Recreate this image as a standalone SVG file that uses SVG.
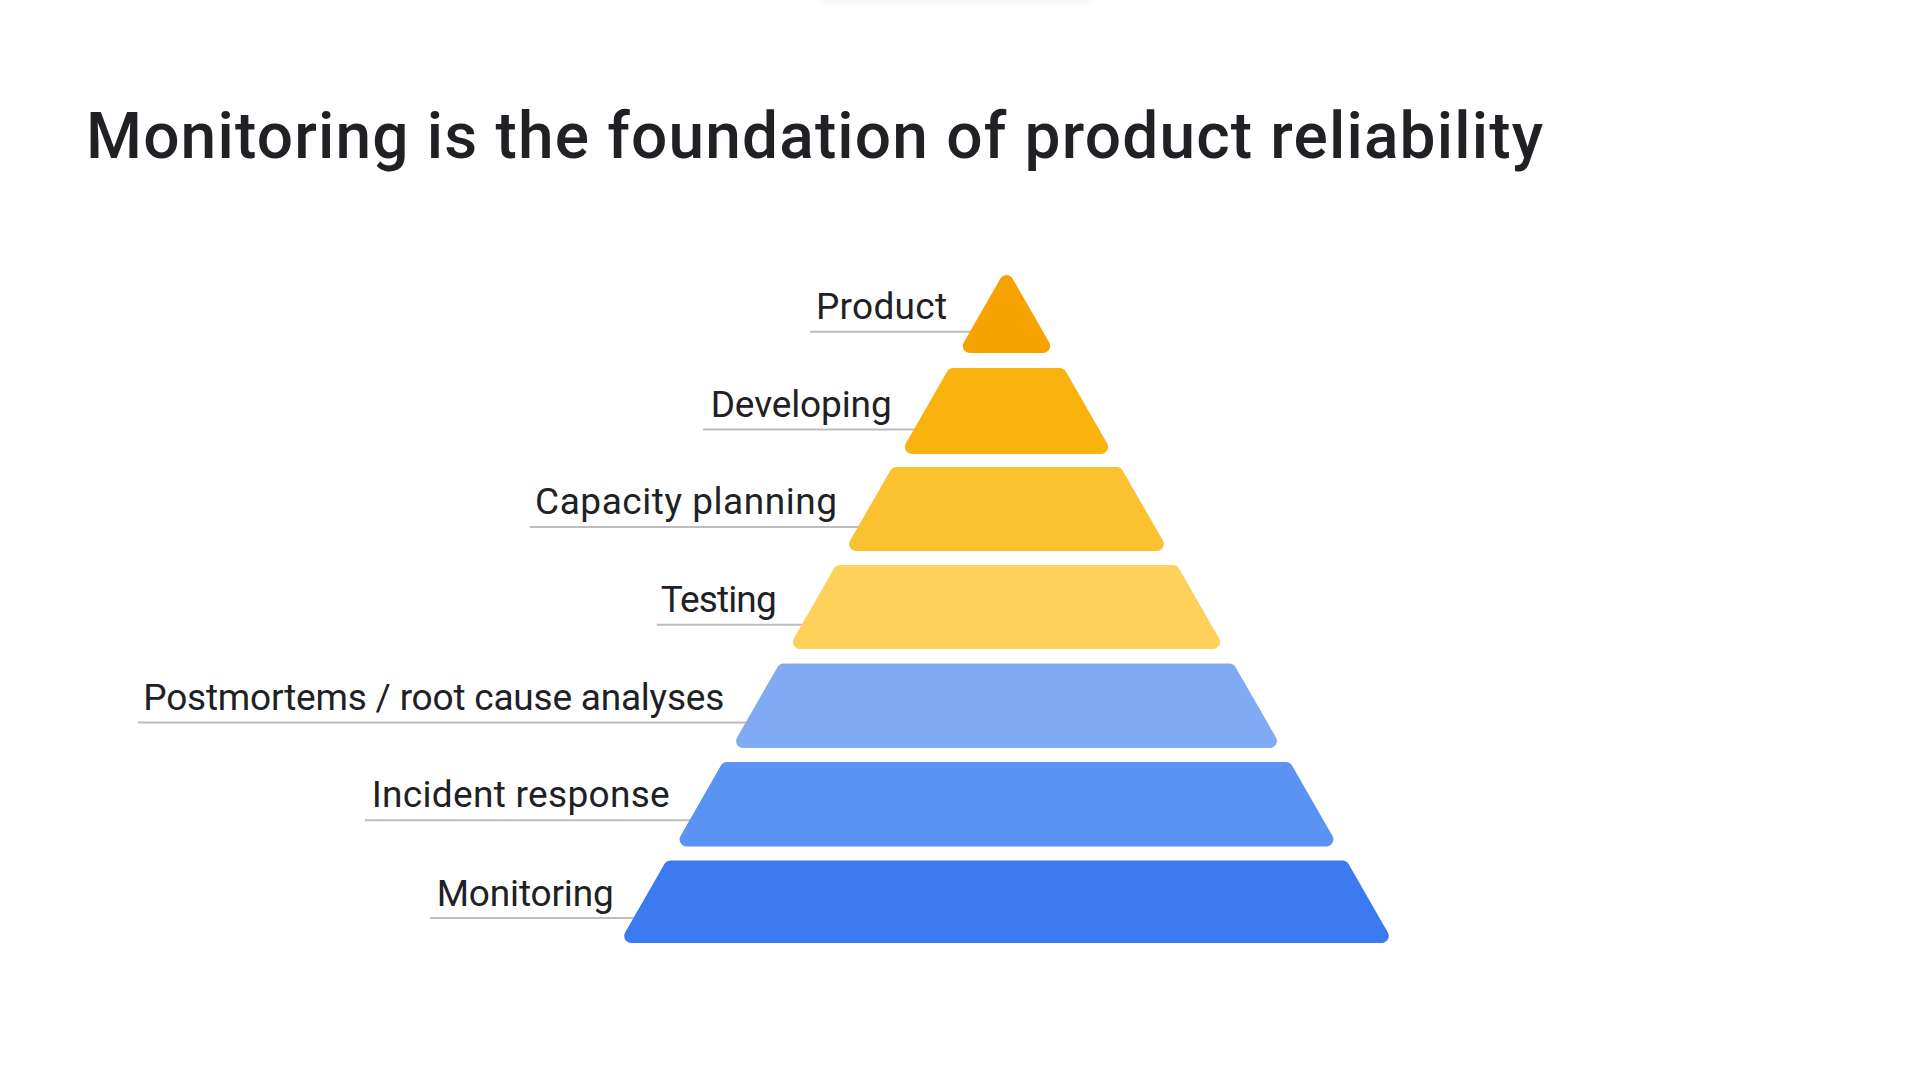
<svg xmlns="http://www.w3.org/2000/svg" width="1916" height="1077" viewBox="0 0 1916 1077">
  <style>
    .title { font-family: Roboto, "Liberation Sans", sans-serif; font-size: 64px; font-weight: 500; fill: #202124; }
    .lbl { font-family: Roboto, "Liberation Sans", sans-serif; font-size: 37px; fill: #202124; }
    .lead { stroke: #BDBDBD; stroke-width: 2; fill: none; }
    .tier { stroke-width: 14; stroke-linejoin: round; }
  </style>
  <defs>
    <filter id="blur" x="-20%" y="-200%" width="140%" height="500%">
      <feGaussianBlur stdDeviation="4"/>
    </filter>
  </defs>
  <rect x="0" y="0" width="1916" height="1077" fill="#FFFFFF"/>
  <rect x="820" y="-14" width="272" height="16" fill="#000" opacity="0.06" filter="url(#blur)"/>

  <text class="title" x="86" y="158" textLength="1457">Monitoring is the foundation of product reliability</text>

  <g id="connectors">
    <line class="lead" x1="810" y1="331.7" x2="980" y2="331.7"/>
    <line class="lead" x1="703" y1="429.4" x2="924" y2="429.4"/>
    <line class="lead" x1="530" y1="527.1" x2="868" y2="527.1"/>
    <line class="lead" x1="656.7" y1="624.8" x2="812" y2="624.8"/>
    <line class="lead" x1="138" y1="722.5" x2="756" y2="722.5"/>
    <line class="lead" x1="365" y1="820.2" x2="700" y2="820.2"/>
    <line class="lead" x1="430" y1="917.9" x2="644" y2="917.9"/>
  </g>

  <g id="product">
    <polygon class="tier" fill="#F6A300" stroke="#F6A300" points="1006.5,282.1 1043.2,346 969.8,346"/>
    <text class="lbl" x="816" y="319" textLength="131">Product</text>
  </g>
  <g id="developing">
    <polygon class="tier" fill="#F9B20E" stroke="#F9B20E" points="953.2,375 1059.8,375 1101.1,447 911.9,447"/>
    <text class="lbl" x="710.7" y="416.5" textLength="181">Developing</text>
  </g>
  <g id="capacity-planning">
    <polygon class="tier" fill="#FBC12F" stroke="#FBC12F" points="896.4,474 1116.6,474 1156.8,544 856.2,544"/>
    <text class="lbl" x="535" y="514" textLength="302">Capacity planning</text>
  </g>
  <g id="testing">
    <polygon class="tier" fill="#FDD15A" stroke="#FDD15A" points="840.1,572 1172.9,572 1213.1,642 799.9,642"/>
    <text class="lbl" x="660.7" y="611.8" textLength="116">Testing</text>
  </g>
  <g id="postmortems">
    <polygon class="tier" fill="#80AAF4" stroke="#80AAF4" points="783.6,670.5 1229.4,670.5 1269.9,741 743.1,741"/>
    <text class="lbl" x="143.3" y="709.5" textLength="581">Postmortems / root cause analyses</text>
  </g>
  <g id="incident-response">
    <polygon class="tier" fill="#5B93F2" stroke="#5B93F2" points="727,769 1286,769 1326.4,839.5 686.6,839.5"/>
    <text class="lbl" x="371.7" y="807" textLength="298">Incident response</text>
  </g>
  <g id="monitoring">
    <polygon class="tier" fill="#3B7AF1" stroke="#3B7AF1" points="670.5,867.5 1342.5,867.5 1381.8,936 631.2,936"/>
    <text class="lbl" x="436.7" y="905.5" textLength="177">Monitoring</text>
  </g>
</svg>
